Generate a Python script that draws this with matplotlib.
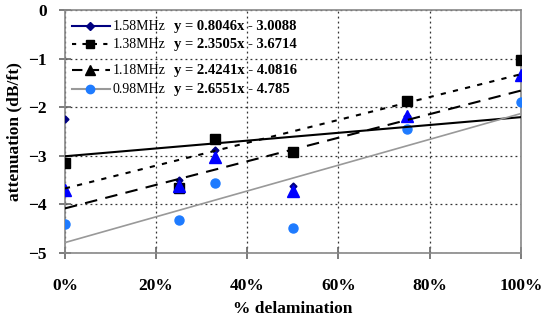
import numpy as np
import matplotlib.pyplot as plt
from matplotlib.ticker import PercentFormatter

plt.rcParams['font.family'] = ['Liberation Serif', 'DejaVu Serif']

# % delamination (fraction)
delam = [0.0, 0.25, 0.33, 0.5, 0.75, 1.0]

# attenuation (dB/ft) per frequency
att_158 = [-2.25, -3.50, -2.87, -3.63, -2.18, -1.34]
att_138 = [-3.15, -3.66, -2.65, -2.92, -1.88, -1.03]
att_118 = [-3.70, -3.62, -3.02, -3.72, -2.18, -1.34]
att_098 = [-4.40, -4.32, -3.55, -4.49, -2.44, -1.89]

# linear trend coefficients (slope, intercept)
fit_158 = (0.8046, -3.0088)
fit_138 = (2.3505, -3.6714)
fit_118 = (2.4241, -4.0816)
fit_098 = (2.6551, -4.785)

labels = ["1.58MHz", "1.38MHz", "1.18MHz", "0.98MHz"]
equations = ["y = 0.8046x - 3.0088", "y = 2.3505x - 3.6714",
             "y = 2.4241x - 4.0816", "y = 2.6551x - 4.785"]

fig = plt.figure(figsize=(5.5, 3.24), dpi=100)
ax = fig.add_axes([0.118, 0.219, 0.829, 0.75])

ax.plot(delam, att_158, ls="none", marker="D", ms=3.5, color="#000080", zorder=3)
ax.plot(delam, att_138, ls="none", marker="s", ms=7.5, color="black", zorder=3)
ax.plot(delam, att_118, ls="none", marker="^", ms=8, color="#0000FF", zorder=3)
ax.plot(delam, att_098, ls="none", marker="o", ms=6.5, color="#1E7BFF", zorder=3)

xs = np.array([0.0, 1.0])
ax.plot(xs, fit_158[0] * xs + fit_158[1], color="black", lw=1.5, zorder=4)
ax.plot(xs, fit_138[0] * xs + fit_138[1], color="black", lw=1.5,
        dashes=(2.5, 3.5), zorder=4)
ax.plot(xs, fit_118[0] * xs + fit_118[1], color="black", lw=1.5,
        dashes=(6, 4), zorder=4)
ax.plot(xs, fit_098[0] * xs + fit_098[1], color="#999999", lw=1.2, zorder=4)

ax.set_xlim(0, 1)
ax.set_ylim(-5, 0)
ax.set_xticks(np.arange(0, 1.01, 0.2))
ax.set_yticks(np.arange(-5, 0.1, 1))
ax.xaxis.set_major_formatter(PercentFormatter(1.0, decimals=0))
ax.grid(True, color="#333333", ls=(0, (1.5, 2.5)), lw=0.9)
for s in ax.spines.values():
    s.set_color("#888888")
    s.set_linewidth(1.2)
ax.tick_params(axis="both", direction="inout", length=8, color="#666666",
               width=1.2, labelsize=12.5)
ax.tick_params(axis="x", pad=14)
ax.tick_params(axis="y", pad=9)
for t in ax.get_xticklabels() + ax.get_yticklabels():
    t.set_fontweight("bold")
ax.set_xlabel("% delamination", fontsize=12.5, fontweight="bold", labelpad=5)
ax.set_ylabel("attenuation (dB/ft)", fontsize=12.5, fontweight="bold", labelpad=4)

# legend drawn by hand so the trend equations line up with each entry
row_y = [0.934, 0.860, 0.753, 0.675]
line_styles = [
    dict(color="#000080"),
    dict(color="black", dashes=(2, 3)),
    dict(color="black", dashes=(5, 3)),
    dict(color="#999999"),
]
marker_styles = [
    dict(marker="D", ms=4, color="#000080"),
    dict(marker="s", ms=6, color="black"),
    dict(marker="^", ms=7, color="black"),
    dict(marker="o", ms=6, color="#1E7BFF"),
]
for y, ls, mk, lab, eq in zip(row_y, line_styles, marker_styles, labels, equations):
    ax.plot([0.015, 0.099], [y, y], transform=ax.transAxes, lw=1.5,
            clip_on=False, zorder=5, **ls)
    ax.plot([0.055], [y], transform=ax.transAxes, ls="none", clip_on=False,
            zorder=6, **mk)
    ax.text(0.105, y, lab, transform=ax.transAxes, fontsize=10,
            va="center", ha="left")
    ax.text(0.239, y, eq, transform=ax.transAxes, fontsize=10.5,
            fontweight="bold", va="center", ha="left")

fig.savefig("out.png", dpi=100)
